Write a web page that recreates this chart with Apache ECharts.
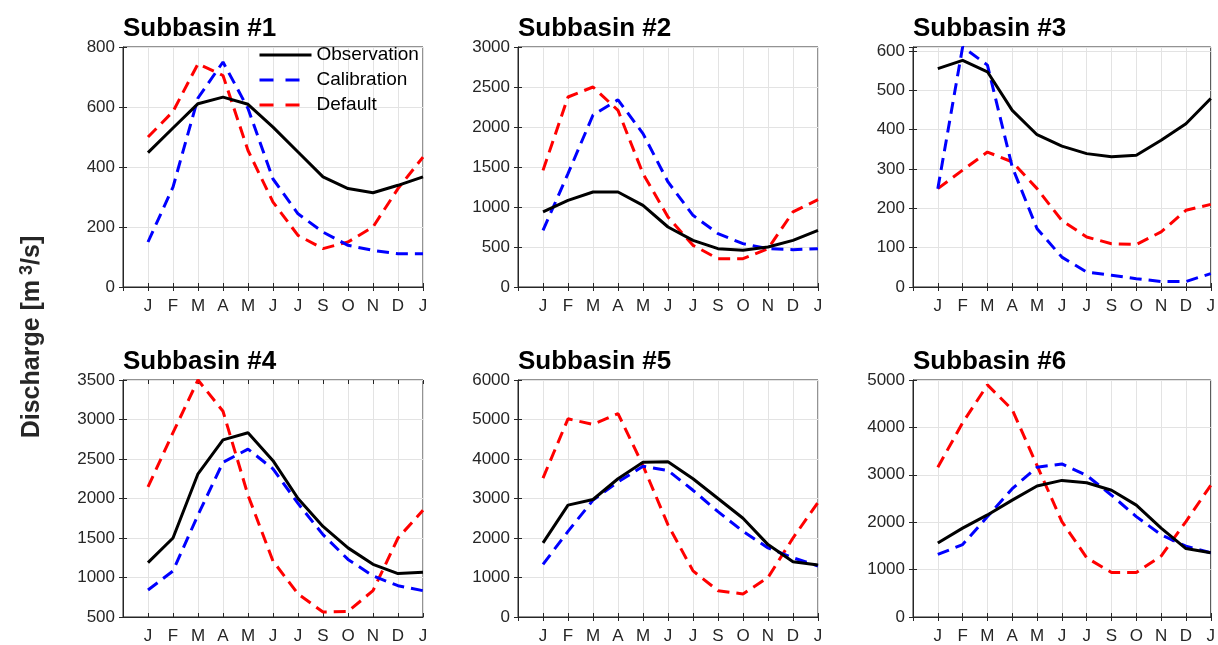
<!DOCTYPE html>
<html>
<head>
<meta charset="utf-8">
<script src="https://cdn.jsdelivr.net/npm/echarts@6/dist/echarts.min.js"></script>
<style>
  html, body { margin: 0; padding: 0; background: #fff; }
  #chart { width: 1218px; height: 645px; }
</style>
</head>
<body>
<div id="chart"></div>
<script>
// month labels (no August label in the original)
const months = ['J', 'F', 'M', 'A', 'M', 'J', 'J', 'S', 'O', 'N', 'D', 'J'];

const titles = ['Subbasin #1', 'Subbasin #2', 'Subbasin #3', 'Subbasin #4', 'Subbasin #5', 'Subbasin #6'];

// observed discharge
const obs1 = [448, 530, 611, 633, 609, 533, 450, 367, 328, 314, 339, 367];
const obs2 = [938, 1083, 1188, 1188, 1021, 750, 583, 479, 458, 500, 583, 708];
const obs3 = [555, 576, 547, 449, 387, 358, 339, 331, 335, 373, 415, 479];
const obs4 = [1188, 1500, 2313, 2742, 2833, 2479, 2000, 1646, 1375, 1167, 1050, 1065];
const obs5 = [1875, 2833, 2975, 3500, 3917, 3933, 3500, 3000, 2500, 1833, 1400, 1317];
const obs6 = [1563, 1875, 2153, 2465, 2764, 2882, 2833, 2674, 2361, 1875, 1444, 1354];

// calibrated model
const cal1 = [150, 333, 630, 750, 595, 360, 244, 183, 139, 122, 111, 111];
const cal2 = [708, 1417, 2150, 2340, 1917, 1313, 896, 667, 542, 479, 467, 479];
const cal3 = [250, 610, 564, 305, 148, 76, 38, 30, 21, 14, 14, 34];
const cal4 = [842, 1083, 1792, 2458, 2625, 2375, 1938, 1542, 1229, 1021, 896, 833];
const cal5 = [1333, 2167, 2958, 3417, 3817, 3708, 3208, 2667, 2167, 1750, 1500, 1292];
const cal6 = [1319, 1528, 2118, 2708, 3160, 3229, 2986, 2569, 2118, 1736, 1493, 1354];

// default parameters
const def1 = [500, 585, 744, 705, 455, 283, 172, 128, 150, 200, 328, 433];
const def2 = [1458, 2375, 2500, 2208, 1417, 875, 521, 354, 354, 479, 938, 1092];
const def3 = [250, 297, 343, 318, 250, 169, 127, 110, 108, 140, 195, 210];
const def4 = [2146, 2833, 3500, 3104, 2042, 1208, 792, 563, 571, 833, 1500, 1850];
const def5 = [3517, 5017, 4875, 5150, 3833, 2333, 1167, 667, 583, 1000, 2000, 2900];
const def6 = [3160, 4097, 4896, 4375, 3194, 2014, 1250, 938, 938, 1285, 2014, 2778];

// y axis ranges
const yMin = [0, 0, 0, 500, 0, 0];
const yMax = [800, 3000, 610, 3500, 6000, 5000];
const yStep = [200, 500, 100, 500, 1000, 1000];

const observations = [obs1, obs2, obs3, obs4, obs5, obs6];
const calibrations = [cal1, cal2, cal3, cal4, cal5, cal6];
const defaults = [def1, def2, def3, def4, def5, def6];

const font = 'Liberation Sans, Arial, Helvetica, sans-serif';
const axisColor = '#262626';
const gridColor = '#e3e3e3';

const lefts = [123, 518, 913];
const tops = [47, 380];
const boxW = 300;
const boxH = 240;

function toPoints(vals) {
    return vals.map((v, i) => [i + 1, v]);
}

let grid = [], xAxis = [], yAxis = [], series = [], title = [];

for (let k = 0; k < 6; k++) {
    let left = lefts[k % 3];
    let top = tops[Math.floor(k / 3)];
    grid.push({
        left: left, top: top, width: boxW, height: boxH,
        show: true, borderColor: axisColor, borderWidth: 1, backgroundColor: '#fff'
    });
    title.push({
        text: titles[k], left: left, top: top - 31, padding: 0,
        textStyle: {fontFamily: font, fontSize: 26, fontWeight: 'bold', color: '#000'}
    });
    // bottom + top x axes
    xAxis.push({
        type: 'value', gridIndex: k, min: 0, max: 12, interval: 1,
        axisLine: {show: true, lineStyle: {color: axisColor}},
        axisTick: {show: true, inside: true, length: 4, lineStyle: {color: axisColor}},
        axisLabel: {
            margin: 11, color: axisColor, fontFamily: font, fontSize: 17,
            formatter: v => (v >= 1 ? months[v - 1] : '')
        },
        splitLine: {show: true, lineStyle: {color: gridColor}}
    });
    xAxis.push({
        type: 'value', gridIndex: k, min: 0, max: 12, interval: 1, position: 'top',
        axisLine: {show: false},
        axisTick: {show: true, inside: true, length: 4, lineStyle: {color: axisColor}},
        axisLabel: {show: false},
        splitLine: {show: false}
    });
    let step = yStep[k];
    yAxis.push({
        type: 'value', gridIndex: k, min: yMin[k], max: yMax[k], interval: step,
        axisLine: {show: true, lineStyle: {color: axisColor}},
        axisTick: {show: true, inside: true, length: 4, lineStyle: {color: axisColor}},
        axisLabel: {
            margin: 8, color: axisColor, fontFamily: font, fontSize: 17,
            formatter: v => (v % step === 0 ? String(v) : '')
        },
        splitLine: {show: true, lineStyle: {color: gridColor}}
    });
    yAxis.push({
        type: 'value', gridIndex: k, min: yMin[k], max: yMax[k], interval: step, position: 'right',
        axisLine: {show: false},
        axisTick: {show: true, inside: true, length: 4, lineStyle: {color: axisColor}},
        axisLabel: {show: false},
        splitLine: {show: false}
    });

    series.push({
        name: 'Observation', type: 'line', xAxisIndex: 2 * k, yAxisIndex: 2 * k,
        data: toPoints(observations[k]), showSymbol: false, symbol: 'none', z: 5,
        lineStyle: {color: '#000', width: 3}, itemStyle: {color: '#000'}
    });
    series.push({
        name: 'Calibration', type: 'line', xAxisIndex: 2 * k, yAxisIndex: 2 * k,
        data: toPoints(calibrations[k]), showSymbol: false, symbol: 'none', z: 4,
        lineStyle: {color: '#0000ff', width: 3, type: [12, 7]}, itemStyle: {color: '#0000ff'}
    });
    series.push({
        name: 'Default', type: 'line', xAxisIndex: 2 * k, yAxisIndex: 2 * k,
        data: toPoints(defaults[k]), showSymbol: false, symbol: 'none', z: 3,
        lineStyle: {color: '#ff0000', width: 3, type: [12, 7]}, itemStyle: {color: '#ff0000'}
    });
}

let option = {
    animation: false,
    backgroundColor: '#fff',
    title: title,
    grid: grid,
    xAxis: xAxis,
    yAxis: yAxis,
    legend: {
        data: [
            {name: 'Observation'},
            {name: 'Calibration', lineStyle: {type: [14, 12]}},
            {name: 'Default', lineStyle: {type: [14, 12]}}
        ],
        orient: 'vertical', left: 258, top: 45, padding: 0,
        itemWidth: 52, itemHeight: 20, itemGap: 5,
        itemStyle: {opacity: 0},
        lineStyle: {width: 3},
        textStyle: {fontFamily: font, fontSize: 19, color: '#000', lineHeight: 20},
        z: 10
    },
    graphic: [{
        type: 'text', x: 32, y: 337, rotation: Math.PI / 2,
        style: {
            text: 'Discharge [m{sup| 3}/s]',
            font: 'bold 25px ' + font,
            fill: '#262626',
            align: 'center', verticalAlign: 'middle',
            rich: {sup: {fontSize: 18, fontWeight: 'bold', fontFamily: font, verticalAlign: 'top', padding: [0, 0, 9, 0], fill: '#262626'}}
        }
    }],
    series: series
};

let myChart = echarts.init(document.getElementById('chart'));
myChart.setOption(option);
</script>
</body>
</html>
